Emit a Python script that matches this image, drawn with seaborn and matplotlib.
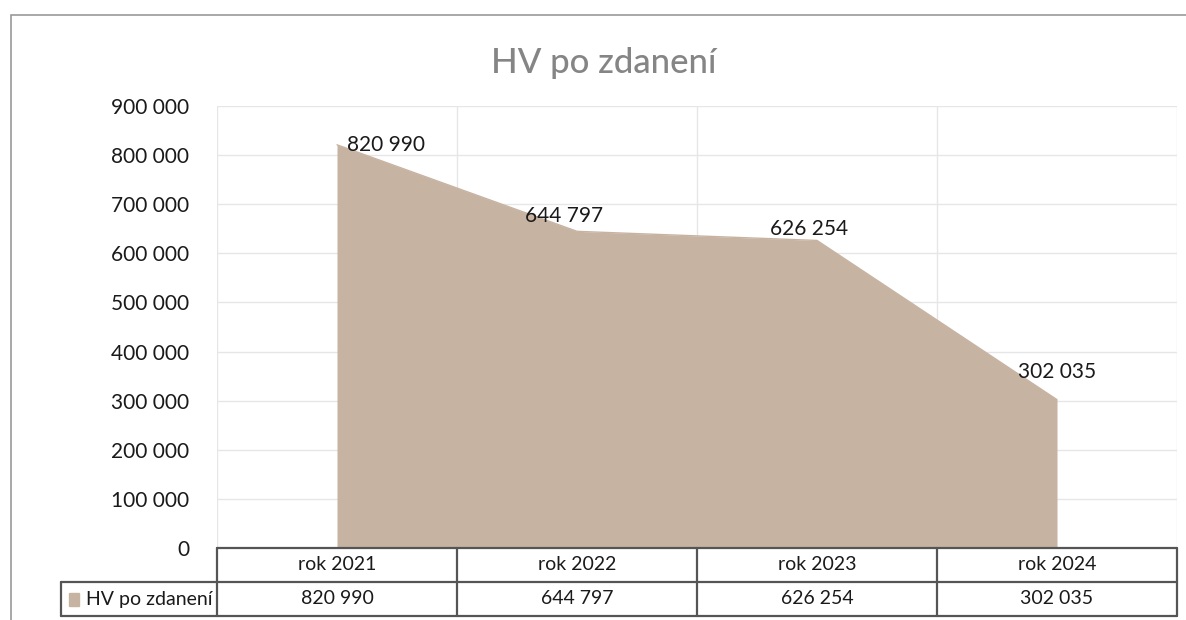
import matplotlib.pyplot as plt
import seaborn as sns
import pandas as pd
import numpy as np
from matplotlib.patches import Rectangle

# data
years = ["rok 2021", "rok 2022", "rok 2023", "rok 2024"]
hv_values = [820990, 644797, 626254, 302035]
series_name = "HV po zdanení"
y_ticks = [0, 100000, 200000, 300000, 400000, 500000, 600000, 700000, 800000, 900000]

# label offsets in points (style only)
label_offsets = [(35, 0), (-9, 11), (-6, 8), (0, 20)]

FILL = "#c7b3a2"
GRID = "#e6e6e6"
TXT = "#1a1a1a"


def fmt(v):
    return f"{v:,}".replace(",", " ")


sns.set_theme(style="white")
plt.rcParams["font.family"] = ["Lato", "DejaVu Sans"]

df = pd.DataFrame({"year": years, "value": hv_values})
df["pos"] = np.arange(len(df))

fig = plt.figure(figsize=(11.86, 6.2), dpi=100)
W, H = 1186, 620

# outer chart border
fig.add_artist(Rectangle((11 / W, -0.1), 1.2, 1 - 15 / H + 0.1, transform=fig.transFigure,
                         fill=False, edgecolor="#9a9a9a", linewidth=1.2))

ax = fig.add_axes([217 / W, 1 - 548 / H, (1177 - 217) / W, (548 - 106) / H])
ax.fill_between(df["pos"], df["value"], color=FILL, linewidth=0, zorder=2)
sns.lineplot(data=df, x="pos", y="value", ax=ax, color=FILL, linewidth=1, zorder=3)

ax.set_xlim(-0.5, len(years) - 0.5)
ax.set_ylim(0, 900000)
ax.set_yticks(y_ticks)
ax.set_yticklabels([fmt(t) for t in y_ticks], fontsize=15, color=TXT)
ax.set_xticks([])
ax.set_xlabel("")
ax.set_ylabel("")
ax.tick_params(axis="y", length=0, pad=20)
for t in y_ticks[1:]:
    ax.axhline(t, color=GRID, linewidth=1, zorder=1)
for b in np.arange(len(years) + 1) - 0.5:
    ax.axvline(b, color=GRID, linewidth=1, zorder=1)
for s in ax.spines.values():
    s.set_visible(False)

for (x, v), off in zip(zip(df["pos"], df["value"]), label_offsets):
    ax.annotate(fmt(v), (x, v), xytext=off, textcoords="offset points",
                ha="center", va="center", fontsize=15, color=TXT, zorder=4)

fig.text(604 / W, 1 - 63 / H, series_name, ha="center", va="center",
         fontsize=25, color="#858585", fontweight="medium")

# data table below the plot
unit = (1177 - 217) / len(years)
tab_left = 61
left_u = -0.5 - (217 - tab_left) / unit
tax = fig.add_axes([tab_left / W, 1 - 616 / H, (1177 - tab_left) / W, 68 / H])
tax.set_xlim(left_u, len(years) - 0.5)
tax.set_ylim(0, 2)
tax.axis("off")
lc = "#555555"
lw = 1.6
tax.plot([-0.5, len(years) - 0.5], [2, 2], color=lc, lw=lw, clip_on=False)
tax.plot([left_u, len(years) - 0.5], [1, 1], color=lc, lw=lw, clip_on=False)
tax.plot([left_u, len(years) - 0.5], [0, 0], color=lc, lw=lw, clip_on=False)
tax.plot([left_u, left_u], [0, 1], color=lc, lw=lw, clip_on=False)
for b in np.arange(len(years) + 1) - 0.5:
    tax.plot([b, b], [0, 2], color=lc, lw=lw, clip_on=False)
for i, (yr, v) in enumerate(zip(years, hv_values)):
    tax.text(i, 1.5, yr, ha="center", va="center", fontsize=14, color=TXT)
    tax.text(i, 0.5, fmt(v), ha="center", va="center", fontsize=14, color=TXT)
px = 1 / unit
tax.add_patch(Rectangle((left_u + 8 * px, 0.3), 10 * px, 0.38, color=FILL, clip_on=False))
tax.text(left_u + 25 * px, 0.5, series_name, ha="left", va="center", fontsize=14, color=TXT)

fig.savefig("out.png", dpi=100)
